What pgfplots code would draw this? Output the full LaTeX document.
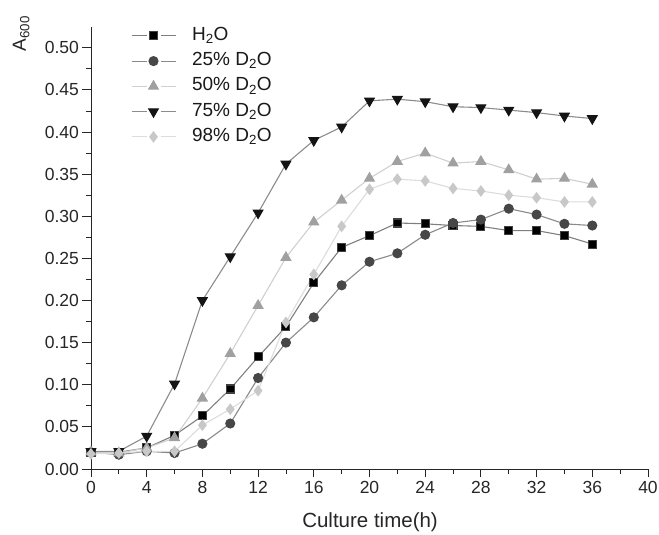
\documentclass[border=0pt]{standalone}
\usepackage{fontspec}
\setmainfont{Liberation Sans}
\usepackage{pgfplots}
\pgfplotsset{compat=1.18}
\usepackage{pgfplotstable}
\definecolor{lnA}{HTML}{7F7F7F}
\definecolor{lnB}{HTML}{8A8A8A}
\definecolor{lnC}{HTML}{CFCFCF}
\definecolor{lnD}{HTML}{8C8C8C}
\definecolor{lnE}{HTML}{DCDCDC}
\definecolor{mkB}{HTML}{474747}
\definecolor{mkC}{HTML}{A0A0A0}
\definecolor{mkE}{HTML}{C8C8C8}

\pgfplotstableread{
t   h2o    d25    d50    d75    d98
0   0.020  0.020  0.020  0.021  0.018
2   0.020  0.017  0.019  0.021  0.019
4   0.025  0.021  0.025  0.039  0.021
6   0.040  0.019  0.037  0.101  0.021
8   0.063  0.030  0.084  0.200  0.052
10  0.095  0.054  0.137  0.252  0.071
12  0.133  0.108  0.194  0.304  0.093
14  0.169  0.150  0.251  0.362  0.174
16  0.221  0.180  0.293  0.390  0.231
18  0.263  0.218  0.319  0.406  0.288
20  0.277  0.246  0.345  0.437  0.332
22  0.292  0.256  0.365  0.439  0.344
24  0.291  0.278  0.375  0.436  0.342
26  0.289  0.292  0.363  0.430  0.333
28  0.288  0.296  0.365  0.429  0.330
30  0.283  0.309  0.355  0.426  0.325
32  0.283  0.302  0.344  0.423  0.322
34  0.277  0.291  0.345  0.419  0.317
36  0.267  0.289  0.338  0.416  0.317
}\datatable

\begin{document}
\begin{tikzpicture}
\begin{axis}[
  at={(0,0)}, anchor=south west,
  scale only axis,
  width=557pt, height=442.3pt,
  xmin=0, xmax=40, ymin=0, ymax=0.525,
  axis lines=left,
  axis line style={-, line width=0.8pt, black!85},
  xtick={0,4,...,40},
  ytick={0,0.05,...,0.501},
  minor x tick num=1,
  minor y tick num=1,
  tick align=outside,
  major tick length=8.5pt,
  minor tick length=5pt,
  every tick/.style={black!85, line width=0.8pt},
  /pgf/number format/assume math mode=true,
  yticklabel style={/pgf/number format/.cd, fixed, fixed zerofill, precision=2},
  scaled y ticks=false,
  tick label style={font=\fontsize{17.5}{20}\selectfont, text=black!85},
  xlabel={Culture time(h)},
  xlabel style={at={(axis description cs:0.501,-0.132)}, anchor=base, font=\fontsize{20.5}{24}\selectfont, text=black!85},
  ylabel={A\textsubscript{600}},
  ylabel style={at={(axis description cs:-0.1167,1.032)}, anchor=base east, font=\fontsize{19}{22}\selectfont, text=black!85},
  legend style={at={(axis description cs:0.066,1.008)}, anchor=north west, draw=none, fill=none,
    font=\fontsize{19}{22}\selectfont, text=black!90,
    nodes={text height=13pt, text depth=4pt, inner sep=2pt}, row sep=4.25pt,
    /tikz/every odd column/.append style={column sep=14pt}},
  legend cell align=left,
  legend image code/.code={%
    \draw[mark=none] (0pt,0pt) -- (15pt,0pt);
    \draw[mark=none] (29pt,0pt) -- (44pt,0pt);
    \draw[only marks] plot coordinates {(22pt,0pt)};},
  every axis plot/.append style={line width=1.1pt},
]
\addplot[color=lnA, mark=square*, mark size=4pt, mark options={fill=black, draw=black!75}] table[x=t, y=h2o] {\datatable};
\addlegendentry{H\textsubscript{2}O}
\addplot[color=lnB, mark=*, mark size=4.5pt, mark options={fill=mkB, draw=mkB}] table[x=t, y=d25] {\datatable};
\addlegendentry{25\% D\textsubscript{2}O}
\addplot[color=lnC, mark=triangle*, mark size=5.5pt, mark options={fill=mkC, draw=mkC}] table[x=t, y=d50] {\datatable};
\addlegendentry{50\% D\textsubscript{2}O}
\addplot[color=lnD, mark=triangle*, mark size=5.5pt, mark options={fill=black!92, draw=black!92, rotate=180}] table[x=t, y=d75] {\datatable};
\addlegendentry{75\% D\textsubscript{2}O}
\addplot[color=lnE, mark=diamond*, mark size=5pt, mark options={fill=mkE, draw=mkE}] table[x=t, y=d98] {\datatable};
\addlegendentry{98\% D\textsubscript{2}O}
\end{axis}
\pgfresetboundingbox
\path[use as bounding box] (-91pt,-66pt) rectangle (568pt,469pt);
\end{tikzpicture}
\end{document}
